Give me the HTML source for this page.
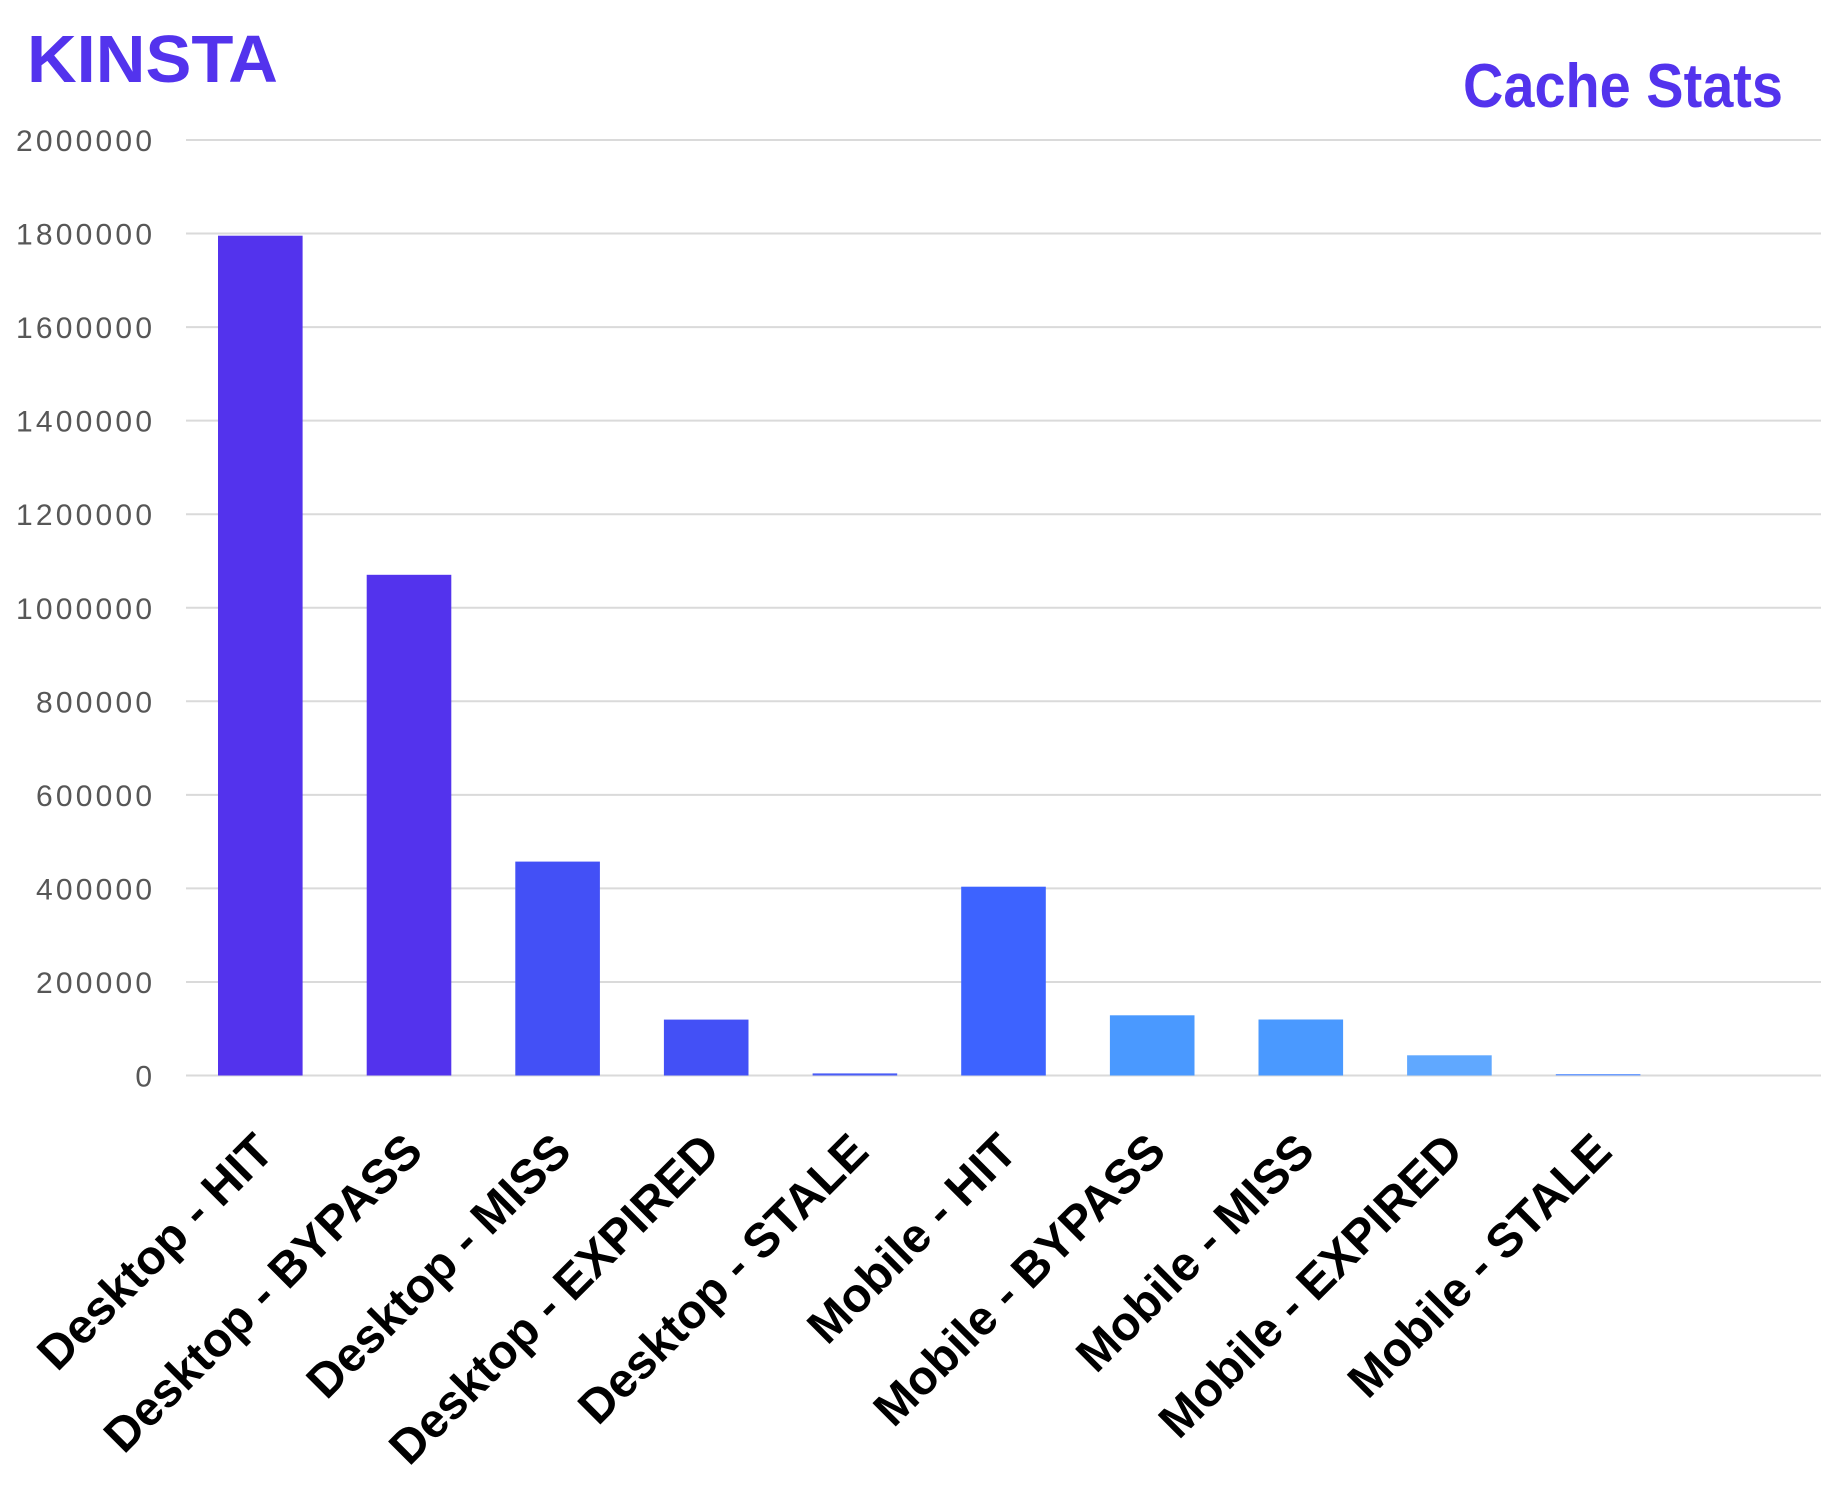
<!DOCTYPE html>
<html><head><meta charset="utf-8"><style>
html,body{margin:0;padding:0;background:#fff;}
svg{display:block;}
</style></head><body>
<svg width="1843" height="1493" viewBox="0 0 1843 1493" xmlns="http://www.w3.org/2000/svg">
<rect width="1843" height="1493" fill="#fff"/>
<text x="27" y="82" font-family="Liberation Sans, sans-serif" font-weight="bold" font-size="67" fill="#5333ED" textLength="251" lengthAdjust="spacingAndGlyphs" style="text-transform:uppercase">kinsta</text>
<text x="1783" y="107" text-anchor="end" font-family="Liberation Sans, sans-serif" font-weight="bold" font-size="62" fill="#5333ED" textLength="320" lengthAdjust="spacingAndGlyphs">Cache Stats</text>
<g stroke="#dadada" stroke-width="2">
<line x1="186" y1="140" x2="1821" y2="140"/>
<line x1="186" y1="233.5" x2="1821" y2="233.5"/>
<line x1="186" y1="327.1" x2="1821" y2="327.1"/>
<line x1="186" y1="420.6" x2="1821" y2="420.6"/>
<line x1="186" y1="514.2" x2="1821" y2="514.2"/>
<line x1="186" y1="607.8" x2="1821" y2="607.8"/>
<line x1="186" y1="701.3" x2="1821" y2="701.3"/>
<line x1="186" y1="794.9" x2="1821" y2="794.9"/>
<line x1="186" y1="888.4" x2="1821" y2="888.4"/>
<line x1="186" y1="982" x2="1821" y2="982"/>
<line x1="186" y1="1075.5" x2="1821" y2="1075.5"/>
</g>
<g font-family="Liberation Sans, sans-serif" font-size="30" fill="#575757" text-anchor="end" lengthAdjust="spacingAndGlyphs">
<text x="152" y="151" textLength="136">2000000</text>
<text x="152" y="244.5" textLength="136">1800000</text>
<text x="152" y="338.1" textLength="136">1600000</text>
<text x="152" y="431.6" textLength="136">1400000</text>
<text x="152" y="525.2" textLength="136">1200000</text>
<text x="152" y="618.8" textLength="136">1000000</text>
<text x="152" y="712.3" textLength="116">800000</text>
<text x="152" y="805.9" textLength="116">600000</text>
<text x="152" y="899.4" textLength="116">400000</text>
<text x="152" y="993" textLength="116">200000</text>
<text x="152" y="1086.5" textLength="18">0</text>
</g>
<g>
<rect x="218" y="235.7" width="84.6" height="839.8" fill="#5333ED"/>
<rect x="366.7" y="574.8" width="84.6" height="500.7" fill="#5333ED"/>
<rect x="515.3" y="861.6" width="84.6" height="213.9" fill="#4350F6"/>
<rect x="663.9" y="1019.6" width="84.6" height="55.9" fill="#4350F6"/>
<rect x="812.6" y="1073.4" width="84.6" height="2.1" fill="#4A5CF6"/>
<rect x="961.2" y="886.7" width="84.6" height="188.8" fill="#3D63FF"/>
<rect x="1109.9" y="1015.3" width="84.6" height="60.2" fill="#4A99FF"/>
<rect x="1258.5" y="1019.5" width="84.6" height="56" fill="#4A99FF"/>
<rect x="1407.1" y="1055.3" width="84.6" height="20.2" fill="#60A8FF"/>
<rect x="1555.8" y="1074" width="84.6" height="1.5" fill="#6E9EFF"/>
</g>
<g font-family="Liberation Sans, sans-serif" font-weight="bold" font-size="48" fill="#000" text-anchor="end">
<text transform="translate(276,1154) rotate(-45)">Desktop - HIT</text>
<text transform="translate(425,1154) rotate(-45)">Desktop - BYPASS</text>
<text transform="translate(573.6,1154) rotate(-45)">Desktop - MISS</text>
<text transform="translate(722.2,1154) rotate(-45)">Desktop - EXPIRED</text>
<text transform="translate(870.9,1154) rotate(-45)">Desktop - STALE</text>
<text transform="translate(1019.5,1154) rotate(-45)">Mobile - HIT</text>
<text transform="translate(1168.2,1154) rotate(-45)">Mobile - BYPASS</text>
<text transform="translate(1316.8,1154) rotate(-45)">Mobile - MISS</text>
<text transform="translate(1465.4,1154) rotate(-45)">Mobile - EXPIRED</text>
<text transform="translate(1614.1,1154) rotate(-45)">Mobile - STALE</text>
</g>
</svg>
</body></html>
